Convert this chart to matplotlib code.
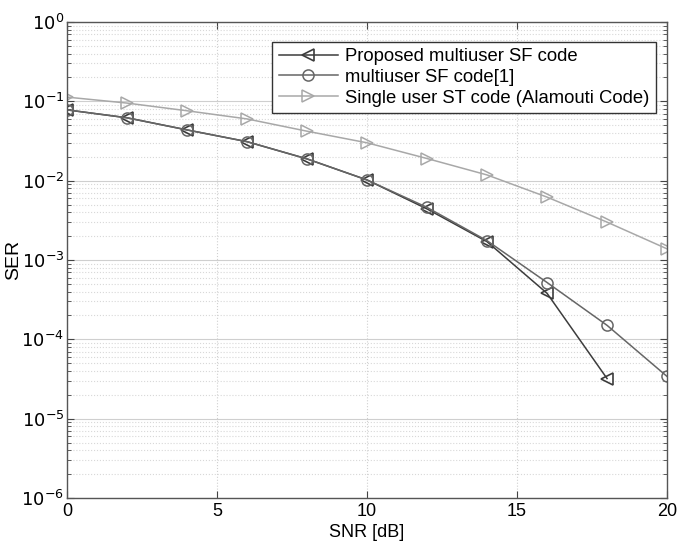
import numpy as np
import matplotlib
matplotlib.use("Agg")
import matplotlib.pyplot as plt
from matplotlib.ticker import LogLocator, NullFormatter

plt.rcParams['font.family'] = ['Liberation Sans', 'DejaVu Sans']

# SER vs SNR data
snr_prop = [0, 2, 4, 6, 8, 10, 12, 14, 16, 18]
ser_prop = [0.078, 0.062, 0.0436, 0.031, 0.0188, 0.0102, 0.0044, 0.0017, 3.8e-4, 3.2e-5]

snr_mu = [0, 2, 4, 6, 8, 10, 12, 14, 16, 18, 20]
ser_mu = [0.078, 0.062, 0.0436, 0.031, 0.0188, 0.0102, 0.0046, 0.00175, 5.2e-4, 1.5e-4, 3.4e-5]

snr_su = [0, 2, 4, 6, 8, 10, 12, 14, 16, 18, 20]
ser_su = [0.113, 0.095, 0.076, 0.06, 0.042, 0.030, 0.019, 0.0118, 0.0062, 0.003, 0.00138]

labels = ["Proposed multiuser SF code", "multiuser SF code[1]",
          "Single user ST code (Alamouti Code)"]
xticks = [0, 5, 10, 15, 20]
yticks = [1e-6, 1e-5, 1e-4, 1e-3, 1e-2, 1e-1, 1]
ytick_labels = [r"$10^{-6}$", r"$10^{-5}$", r"$10^{-4}$", r"$10^{-3}$",
                r"$10^{-2}$", r"$10^{-1}$", r"$10^{0}$"]

fig = plt.figure(figsize=(6.8, 5.44), dpi=100)
ax = fig.add_axes([0.0985, 0.0846, 0.8825, 0.875])

ax.semilogy(snr_prop, ser_prop, color="#3c3c3c", marker="<", markersize=9,
            markerfacecolor="none", markeredgewidth=1.2, linewidth=1.1, label=labels[0])
ax.semilogy(snr_mu, ser_mu, color="#666666", marker="o", markersize=8,
            markerfacecolor="none", markeredgewidth=1.1, linewidth=1.1, label=labels[1])
ax.semilogy(snr_su, ser_su, color="#a8a8a8", marker=">", markersize=9,
            markerfacecolor="none", markeredgewidth=1.1, linewidth=1.1, label=labels[2])

ax.set_xlim(0, 20)
ax.set_ylim(1e-6, 1)
ax.set_xticks(xticks)
ax.set_yticks(yticks)
ax.set_yticklabels(ytick_labels)
ax.yaxis.set_minor_locator(LogLocator(base=10, subs=np.arange(2, 10), numticks=10))
ax.yaxis.set_minor_formatter(NullFormatter())

ax.grid(True, which="major", color="#cfcfcf", linestyle="-", linewidth=0.8)
ax.grid(True, which="minor", axis="y", color="#d8d8d8", linestyle=":", linewidth=0.8)
ax.xaxis.grid(True, color="#d0d0d0", linestyle=":", linewidth=0.8)

ax.tick_params(which="both", direction="in", top=True, right=True, labelsize=13, color="#444444")
ax.tick_params(which="major", length=5)
ax.tick_params(which="minor", length=3)
ax.tick_params(axis="y", pad=2)
for s in ax.spines.values():
    s.set_color("#555555")
    s.set_linewidth(1.0)

ax.set_xlabel("SNR [dB]", fontsize=13, labelpad=3)
ax.set_ylabel("SER", fontsize=14)
ax.yaxis.set_label_coords(-0.075, 0.5)

leg = ax.legend(loc="upper right", fontsize=13.3, fancybox=False, framealpha=1,
                edgecolor="#333333", borderpad=0.35, labelspacing=0.2,
                handlelength=3.2, handletextpad=0.4, bbox_to_anchor=(0.997, 0.978))
leg.get_frame().set_linewidth(1.0)

plt.savefig("out.png")
